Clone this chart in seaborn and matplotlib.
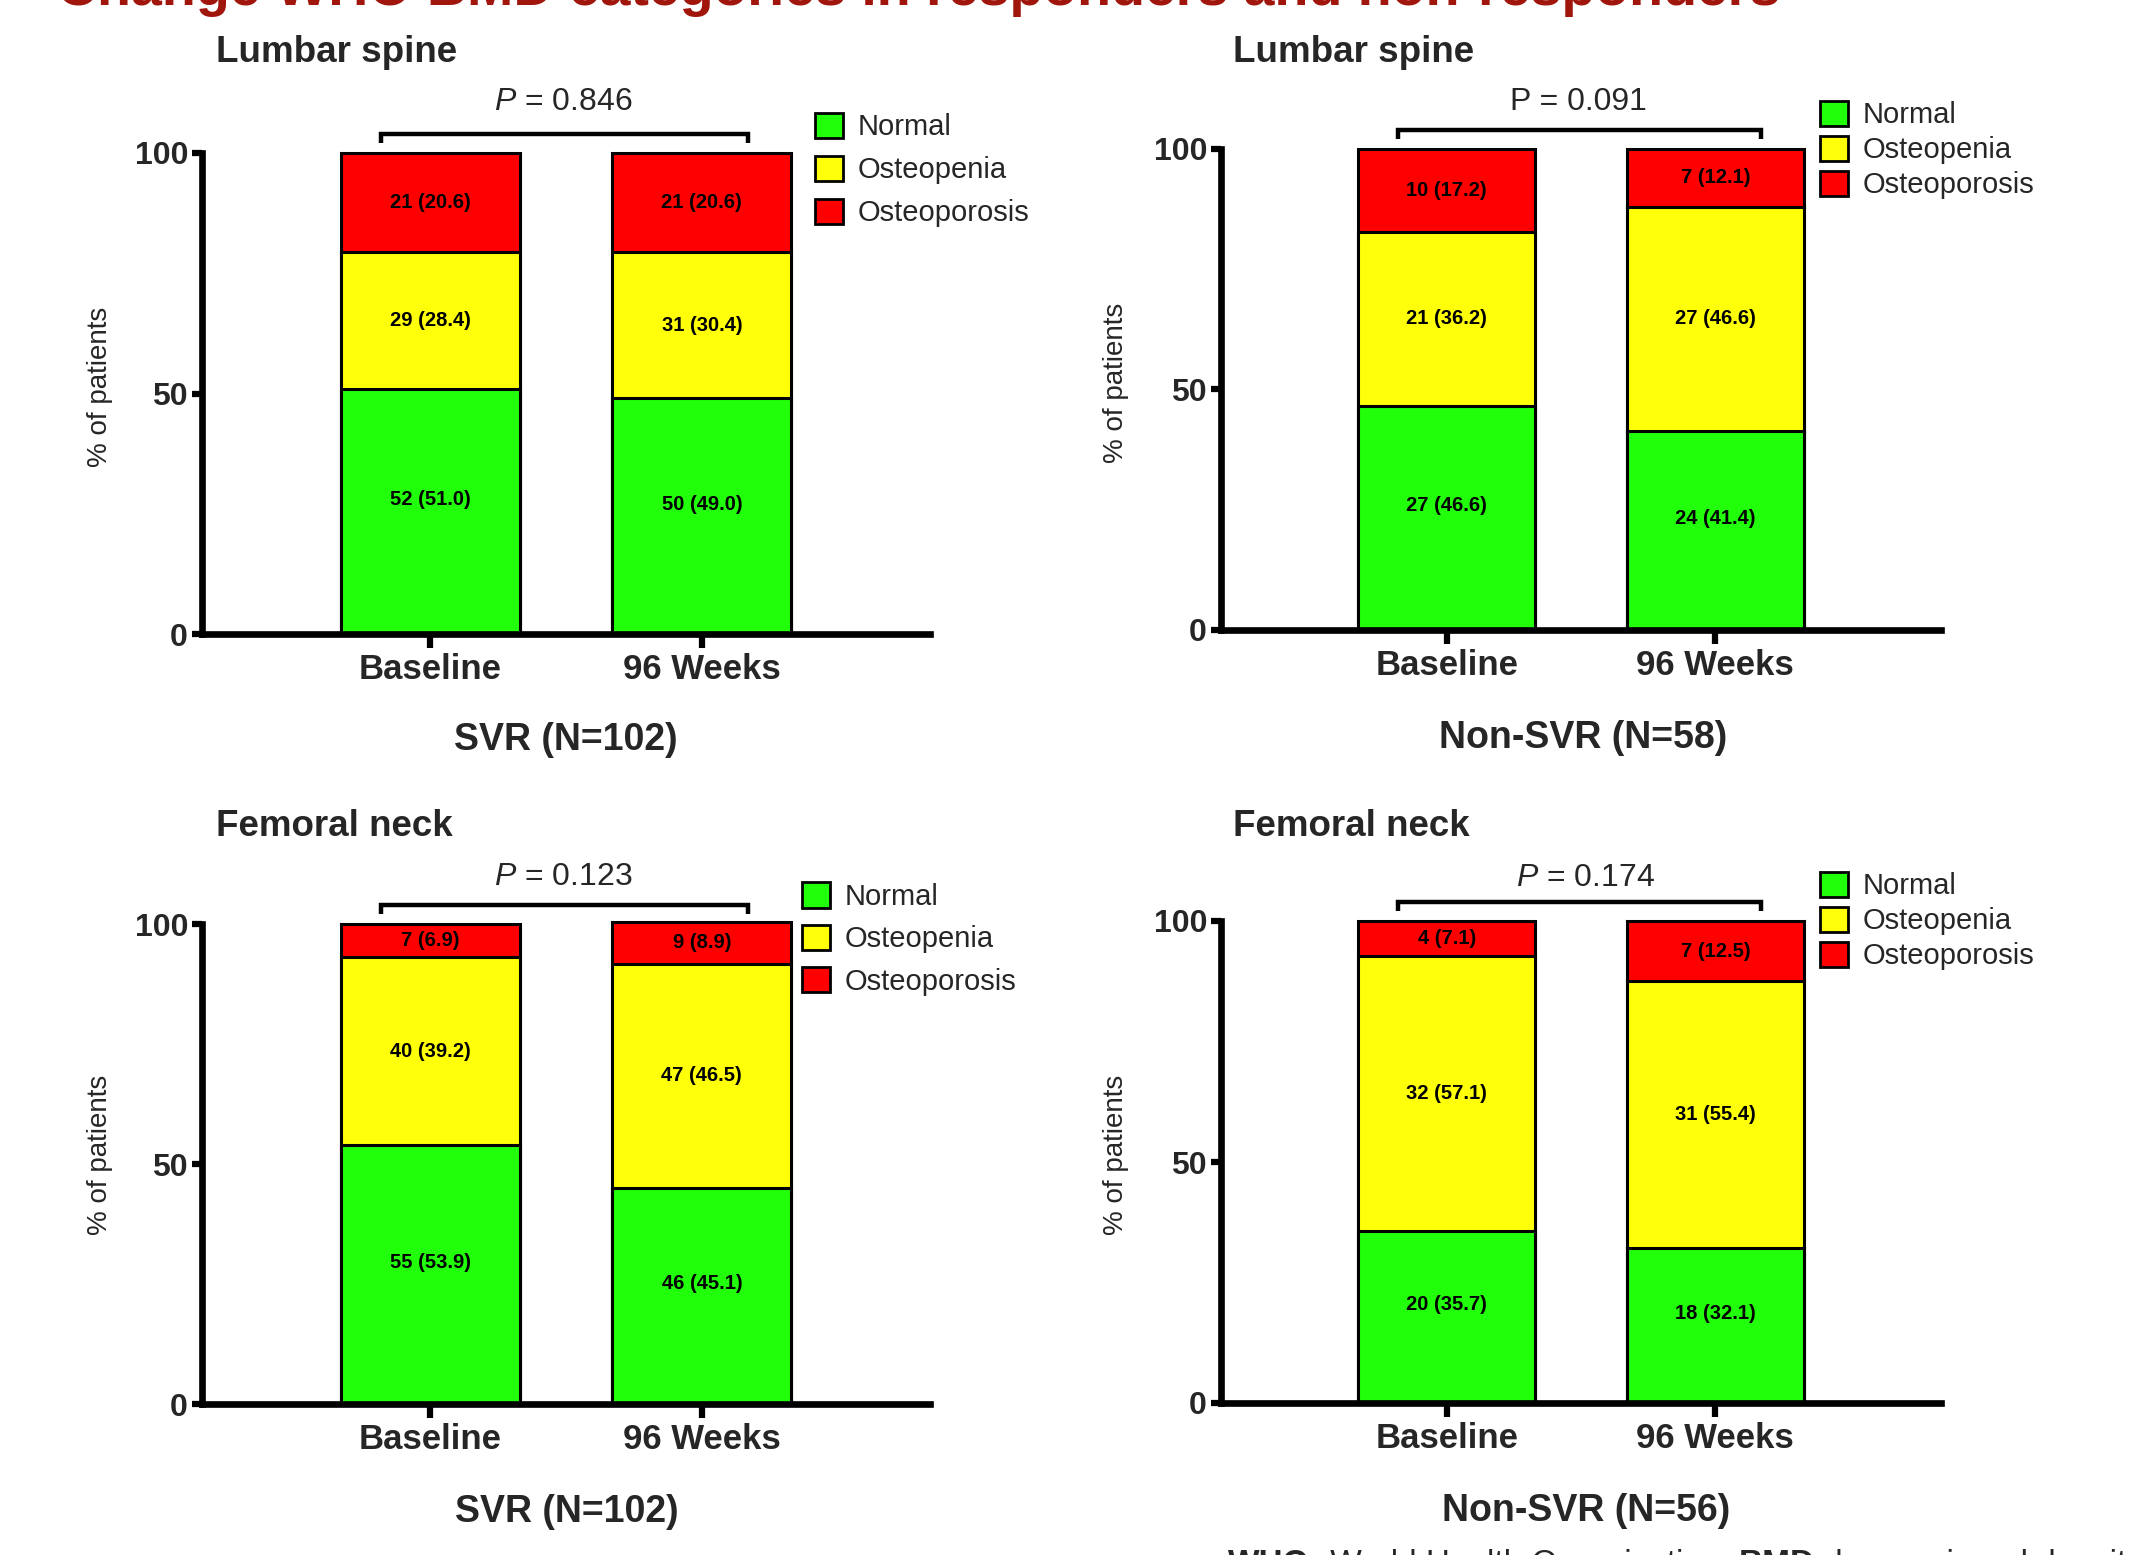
import matplotlib
matplotlib.use("Agg")
import matplotlib.pyplot as plt
from matplotlib.patches import Patch
import pandas as pd
import seaborn as sns

# ---------------------------------------------------------------- data
time_points = ["Baseline", "96 Weeks"]
categories = ["Normal", "Osteopenia", "Osteoporosis"]

# rows follow `categories`, columns follow `time_points`
ls_svr_n = [[52, 50], [29, 31], [21, 21]]
ls_svr_pct = [[51.0, 49.0], [28.4, 30.4], [20.6, 20.6]]

ls_non_n = [[27, 24], [21, 27], [10, 7]]
ls_non_pct = [[46.6, 41.4], [36.2, 46.6], [17.2, 12.1]]

fn_svr_n = [[55, 46], [40, 47], [7, 9]]
fn_svr_pct = [[53.9, 45.1], [39.2, 46.5], [6.9, 8.9]]

fn_non_n = [[20, 18], [32, 31], [4, 7]]
fn_non_pct = [[35.7, 32.1], [57.1, 55.4], [7.1, 12.5]]

site_titles = ["Lumbar spine", "Lumbar spine", "Femoral neck", "Femoral neck"]
group_labels = ["SVR (N=102)", "Non-SVR (N=58)", "SVR (N=102)", "Non-SVR (N=56)"]
p_values = ["0.846", "0.091", "0.123", "0.174"]
p_italic = [True, False, True, True]

main_title = "Change WHO BMD categories in responders and non-responders"
y_label = "% of patients"
y_ticks = [0, 50, 100]
footnote = [("WHO:", "bold"), (" World Health Organization; ", "normal"),
            ("BMD:", "bold"), (" bone mineral density", "normal")]

# ---------------------------------------------------------------- style
W, H, DPI = 2144, 1555, 100
palette = {"Normal": "#22ff0a", "Osteopenia": "#ffff0a", "Osteoporosis": "#ff0000"}
title_red = "#a0150c"

sns.set_theme(style="white")
plt.rcParams["font.family"] = ["Liberation Sans", "DejaVu Sans"]
plt.rcParams["mathtext.fontset"] = "custom"
plt.rcParams["mathtext.rm"] = "Liberation Sans"
plt.rcParams["mathtext.it"] = "Liberation Sans:italic"
plt.rcParams["mathtext.bf"] = "Liberation Sans:bold"


def fx(px):
    return px / W


def fy(py):
    return 1 - py / H


# panel geometry in figure pixels: axes box, text anchors, legend anchor;
# p_xy is the p-value position in data units
panels = [
    dict(n=ls_svr_n, pct=ls_svr_pct, box=(202, 153, 930, 634), title=(216, 53),
         ylab=(100, 387), group=(566, 740), leg=(815, 170), leg_sp=0.5,
         p_xy=(0.49, 110.5)),
    dict(n=ls_non_n, pct=ls_non_pct, box=(1221, 149, 1941, 630), title=(1233, 53),
         ylab=(1116, 383), group=(1583, 738), leg=(1820, 150), leg_sp=0.22,
         p_xy=(0.49, 109.7)),
    dict(n=fn_svr_n, pct=fn_svr_pct, box=(202, 924, 930, 1404), title=(216, 826),
         ylab=(100, 1155), group=(567, 1512), leg=(802, 939), leg_sp=0.47,
         p_xy=(0.49, 109.8)),
    dict(n=fn_non_n, pct=fn_non_pct, box=(1221, 921, 1941, 1403), title=(1233, 826),
         ylab=(1116, 1155), group=(1586, 1511), leg=(1820, 921), leg_sp=0.22,
         p_xy=(0.515, 108.9)),
]

fig = plt.figure(figsize=(W / DPI, H / DPI), dpi=DPI)
fig.patch.set_facecolor("white")


def make_frame(n, pct):
    rows = []
    for ci, cat in enumerate(categories):
        for ti, t in enumerate(time_points):
            rows.append(dict(time=t, category=cat, count=n[ci][ti], pct=pct[ci][ti]))
    df = pd.DataFrame(rows)
    df["top"] = df.groupby("time")["pct"].cumsum()
    return df


for i, cfg in enumerate(panels):
    x0, y0, x1, y1 = cfg["box"]
    ax = fig.add_axes([fx(x0), fy(y1), fx(x1) - fx(x0), (y1 - y0) / H])
    ax.set_facecolor("white")
    df = make_frame(cfg["n"], cfg["pct"])

    # stacked bars: draw the cumulative tops from the highest layer down
    for cat in reversed(categories):
        sub = df[df["category"] == cat]
        sns.barplot(data=sub, x="time", y="top", order=time_points,
                    color=palette[cat], saturation=1, width=0.66,
                    edgecolor="black", linewidth=2.2, errorbar=None, ax=ax)
    for p in ax.patches:
        p.set_clip_on(False)

    # segment labels (the bottom one sits a little above its centre)
    for _, r in df.iterrows():
        xi = time_points.index(r["time"])
        ypos = r["top"] - r["pct"] / 2
        if r["category"] == categories[0]:
            ypos += 2.5
        ax.text(xi, ypos, f"{r['count']} ({r['pct']:.1f})",
                ha="center", va="center", fontsize=14.5, fontweight="bold",
                color="black")

    ax.set_xlim(-0.84, 1.84)
    ax.set_ylim(0, 100)
    sns.despine(ax=ax)
    for side in ("left", "bottom"):
        ax.spines[side].set_linewidth(4.8)
        ax.spines[side].set_color("black")
    ax.set_yticks(y_ticks, labels=[str(v) for v in y_ticks],
                  fontsize=23, fontweight="bold")
    ax.set_xticks(range(len(time_points)), labels=time_points,
                  fontsize=25, fontweight="bold")
    ax.tick_params(axis="y", length=7, width=4.5, pad=3, color="black",
                   direction="out", left=True)
    ax.tick_params(axis="x", length=10, width=4.5, pad=4, color="black",
                   direction="out", bottom=True)
    ax.set_xlabel("")
    ax.set_ylabel("")

    # significance bracket and p value
    ax.plot([-0.18, -0.18, 1.17, 1.17], [102, 104, 104, 102], color="black",
            lw=3.2, clip_on=False, solid_capstyle="butt", solid_joinstyle="miter")
    ptxt = (r"$\it{P}$" if p_italic[i] else "P") + f" = {p_values[i]}"
    ax.text(*cfg["p_xy"], ptxt, ha="center", va="center", fontsize=23,
            clip_on=False)

    # legend
    handles = [Patch(facecolor=palette[c], edgecolor="black", linewidth=2)
               for c in categories]
    ax.legend(handles, categories, loc="center left",
              bbox_to_anchor=(fx(cfg["leg"][0]), fy(cfg["leg"][1])),
              bbox_transform=fig.transFigure, frameon=False, fontsize=21,
              handlelength=0.95, handleheight=0.95, handletextpad=0.5,
              labelspacing=cfg["leg_sp"], borderpad=0, borderaxespad=0)

    # panel texts
    fig.text(fx(cfg["title"][0]), fy(cfg["title"][1]), site_titles[i],
             ha="left", va="center", fontsize=26.5, fontweight="bold")
    fig.text(fx(cfg["ylab"][0]), fy(cfg["ylab"][1]), y_label, rotation=90,
             ha="center", va="center", fontsize=20)
    fig.text(fx(cfg["group"][0]), fy(cfg["group"][1]), group_labels[i],
             ha="center", va="center", fontsize=27, fontweight="bold")

# headline running off the top edge
fig.text(fx(57), fy(5), main_title, ha="left", va="baseline", fontsize=40,
         fontweight="bold", color=title_red)

# footnote running off the bottom edge, pieces chained left to right
prev = fig.text(fx(1228), fy(1573), footnote[0][0], ha="left", va="baseline",
                fontsize=24, fontweight=footnote[0][1])
for txt, wt in footnote[1:]:
    prev = fig.add_artist(matplotlib.text.Annotation(
        txt, xy=(1, 0), xycoords=prev, ha="left", va="bottom",
        fontsize=24, fontweight=wt, annotation_clip=False))

fig.savefig("out.png", dpi=DPI, facecolor="white")
